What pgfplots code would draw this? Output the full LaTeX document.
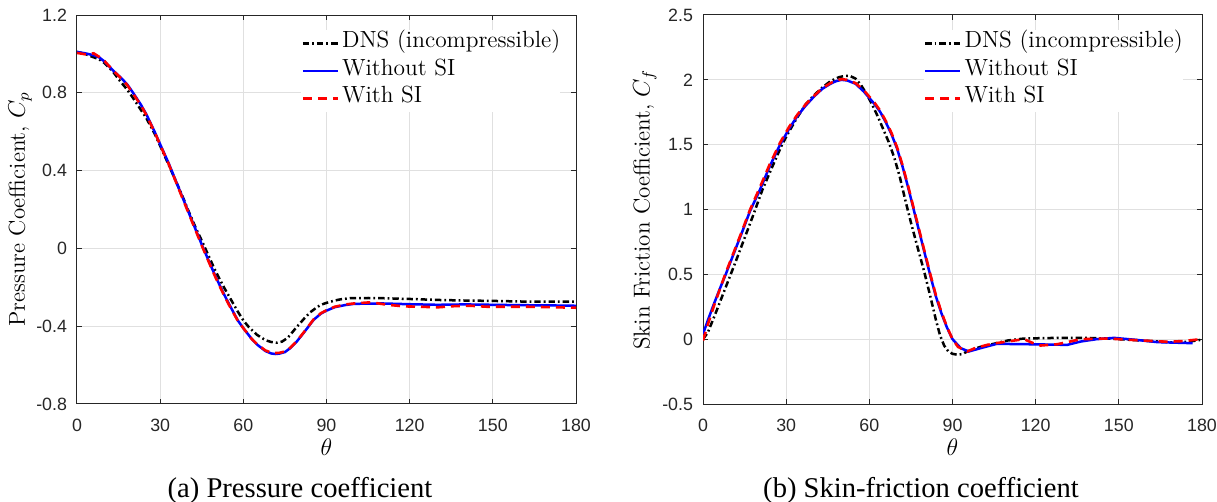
\documentclass[border=0pt]{standalone}
\usepackage{fontspec}
\usepackage{pgfplots}
\pgfplotsset{compat=1.18}
\newfontfamily\arialfont{Liberation Sans}
\newfontfamily\timesfont{Liberation Serif}
\definecolor{axgray}{RGB}{38,38,38}
\definecolor{gridgray}{RGB}{224,224,224}
\pgfplotsset{
  mystyle/.style={
    width=249.5pt, height=194.5pt, scale only axis,
    xmin=0, xmax=180, xtick={0,30,...,180},
    grid=major,
    major grid style={color=gridgray, line width=0.5pt},
    axis line style={color=axgray, line width=0.5pt},
    tick style={color=axgray, line width=0.5pt},
    tick align=inside, major tick length=2.5pt,
    /pgf/number format/assume math mode=true,
    tick label style={font=\arialfont\fontsize{8.9}{10}\selectfont, text=axgray},
    xticklabel style={yshift=-4pt},
    yticklabel style={xshift=-1.5pt},
    xlabel={$\theta$},
    xlabel style={at={(axis description cs:0.5,-0.1105)}, anchor=center, font=\fontsize{11.5}{13}\selectfont},
    ylabel style={anchor=center, font=\fontsize{11.5}{13}\selectfont},
    legend cell align=left,
    legend style={draw=none, fill=white, inner sep=0pt, column sep=1.5pt,
      font=\fontsize{11.7}{13}\selectfont,
      nodes={inner sep=0pt, text height=9pt, text depth=4.75pt},
      anchor=north west},
    legend image code/.code={\draw[#1] (0pt,0pt) -- (17.5pt,0pt);},
    dns/.style={black, line width=1.25pt, dash pattern=on 3.2pt off 1.5pt on 0.9pt off 1.5pt},
    wo/.style={blue, line width=1.25pt, solid},
    wi/.style={red, line width=1.3pt, dash pattern=on 4.5pt off 3pt},
  }
}
\begin{document}
\begin{tikzpicture}
\path[use as bounding box] (0,0) rectangle (608.5pt,-251pt);
% ---------------- (a) Pressure coefficient
\begin{axis}[mystyle, at={(38.5pt,-202pt)}, anchor=south west,
  ymin=-0.8, ymax=1.2, ytick={-0.8,-0.4,0,0.4,0.8,1.2},
  yticklabels={-0.8,-0.4,0,0.4,0.8,1.2},
  ylabel={Pressure Coefficient, $C_p$},
  ylabel style={at={(axis description cs:-0.114,0.5)}},
  legend style={at={(axis description cs:0.449,0.9634)}}]
\addplot[dns] coordinates {
(0,1.01)(3,1.0)(5,0.988)(8,0.972)(10,0.952)(13,0.908)(15,0.87)(18,0.818)(20,0.778)(23,0.713)(25,0.67)(28,0.59)(30,0.527)(33,0.432)(35,0.367)(38,0.27)(40,0.2)(43,0.1)(45,0.04)(48,-0.055)(50,-0.118)(53,-0.2)(55,-0.25)(58,-0.325)(60,-0.37)(62,-0.405)(65,-0.445)(68,-0.472)(70,-0.481)(72,-0.485)(74,-0.479)(76,-0.46)(79.2,-0.405)(82,-0.36)(84,-0.33)(86.5,-0.303)(88,-0.29)(90,-0.28)(93,-0.268)(95,-0.262)(98.5,-0.256)(105,-0.255)(110,-0.256)(120,-0.26)(130,-0.265)(140,-0.268)(150,-0.27)(160,-0.273)(170,-0.274)(180,-0.274)};
\addlegendentry{DNS (incompressible)}
\addplot[wo] coordinates {
(0,1.01)(3,1.003)(6,0.993)(8,0.982)(10,0.96)(13,0.915)(16,0.875)(18,0.845)(20,0.805)(23,0.74)(25,0.69)(28,0.6)(30,0.535)(33,0.44)(35,0.37)(38,0.265)(40,0.195)(43,0.09)(45,0.02)(48,-0.08)(50,-0.145)(53,-0.235)(55,-0.29)(58,-0.37)(60,-0.41)(63,-0.465)(65,-0.495)(68,-0.528)(70,-0.54)(71.5,-0.543)(73,-0.541)(75,-0.533)(77,-0.512)(79.2,-0.48)(82,-0.43)(85.3,-0.368)(88,-0.335)(90,-0.32)(93,-0.302)(96.9,-0.291)(100,-0.285)(110,-0.283)(120,-0.287)(130,-0.29)(140,-0.288)(150,-0.29)(160,-0.292)(170,-0.293)(180,-0.295)};
\addlegendentry{Without SI}
\addplot[wi] coordinates {
(0,1.005)(3,0.998)(6,1.003)(8,0.985)(10,0.962)(13,0.915)(16,0.873)(18,0.842)(20,0.8)(23,0.737)(25,0.686)(28,0.598)(30,0.532)(33,0.436)(35,0.366)(38,0.26)(40,0.19)(43,0.085)(45,0.015)(48,-0.085)(50,-0.15)(53,-0.24)(55,-0.295)(58,-0.372)(60,-0.41)(63,-0.465)(65,-0.493)(68,-0.525)(70,-0.535)(71.5,-0.538)(73,-0.537)(75,-0.53)(77,-0.51)(79.2,-0.478)(82,-0.428)(85.3,-0.366)(88,-0.333)(90,-0.318)(93,-0.3)(96.9,-0.288)(100,-0.283)(106,-0.277)(112,-0.29)(118,-0.298)(124,-0.3)(130,-0.303)(136,-0.297)(142,-0.295)(148,-0.3)(155,-0.3)(162,-0.3)(170,-0.302)(180,-0.305)};
\addlegendentry{With SI}
\end{axis}
% ---------------- (b) Skin friction coefficient
\begin{axis}[mystyle, at={(351.5pt,-202pt)}, anchor=south west,
  ymin=-0.5, ymax=2.5, ytick={-0.5,0,0.5,1,1.5,2,2.5},
  yticklabels={-0.5,0,0.5,1,1.5,2,2.5},
  ylabel={Skin Friction Coefficient, $C_f$},
  ylabel style={at={(axis description cs:-0.1165,0.5)}},
  legend style={at={(axis description cs:0.442,0.9634)}}]
\addplot[dns] coordinates {
(0,0.0)(1.7,0.05)(4,0.17)(6,0.28)(8,0.39)(10,0.5)(12,0.61)(15,0.78)(18,0.95)(21.4,1.15)(25,1.33)(28.5,1.5)(31,1.6)(34,1.71)(37,1.81)(40,1.88)(43,1.94)(46,1.99)(49,2.02)(51,2.03)(53,2.03)(55,2.01)(57,1.96)(59,1.89)(61,1.81)(63,1.72)(65,1.62)(67,1.52)(69,1.40)(71,1.25)(73,1.07)(75,0.9)(77,0.74)(79.8,0.52)(82,0.33)(84,0.15)(85.5,0.03)(87,-0.05)(88.5,-0.095)(90,-0.113)(91.7,-0.12)(93.5,-0.115)(95.3,-0.095)(100,-0.06)(106,-0.03)(110,-0.01)(115.8,0.005)(127.8,0.01)(138,0.01)(146,0.005)(158,-0.01)(170,-0.026)(175,-0.02)(179.6,-0.005)};
\addlegendentry{DNS (incompressible)}
\addplot[wo] coordinates {
(0,0.04)(2,0.16)(4,0.275)(6,0.385)(8.2,0.5)(10,0.6)(12,0.71)(14,0.82)(17,0.99)(20.5,1.15)(24,1.33)(27.8,1.5)(31,1.62)(34,1.72)(37,1.8)(40,1.87)(43,1.93)(46,1.97)(48,1.99)(50,2.0)(52,1.995)(55,1.97)(58,1.91)(60,1.86)(62,1.81)(64,1.75)(66,1.67)(68,1.58)(70,1.47)(72,1.33)(74,1.17)(76,1.0)(78,0.83)(80,0.66)(82,0.49)(84,0.33)(86,0.2)(88,0.09)(90,0.0)(93,-0.07)(95.9,-0.095)(100,-0.07)(106,-0.036)(117,-0.039)(126,-0.042)(131.4,-0.044)(136.3,-0.018)(142,0.0)(148.3,0.01)(156,-0.005)(164,-0.023)(176.6,-0.031)};
\addlegendentry{Without SI}
\addplot[wi] coordinates {
(0,-0.01)(2,0.13)(4,0.26)(6,0.38)(8,0.5)(10,0.61)(12,0.72)(14,0.83)(17,1.0)(20.5,1.17)(24,1.345)(27.8,1.515)(31,1.635)(34,1.73)(37,1.81)(40,1.875)(43,1.935)(46,1.975)(48,1.995)(50,2.005)(52,2.0)(55,1.975)(58,1.92)(60,1.87)(62,1.82)(64,1.76)(66,1.68)(68,1.59)(70,1.48)(72,1.34)(74,1.18)(76,1.01)(78,0.84)(80,0.67)(82,0.5)(84,0.34)(86,0.21)(88,0.095)(90,0.0)(92,-0.06)(95.3,-0.095)(98,-0.07)(102.5,-0.044)(106,-0.03)(109.8,-0.018)(115.8,0.0)(119,-0.03)(121.8,-0.049)(127.8,-0.039)(132,-0.02)(136.3,0.0)(146,0.005)(158,-0.01)(167.6,-0.02)(173,-0.015)(179.6,0.0)};
\addlegendentry{With SI}
\end{axis}
\node[anchor=base, font=\timesfont\fontsize{14.3}{16}\selectfont] at (150pt,-248.5pt) {(a) Pressure coefficient};
\node[anchor=base, font=\timesfont\fontsize{14.3}{16}\selectfont] at (460.5pt,-248.5pt) {(b) Skin-friction coefficient};
\end{tikzpicture}
\end{document}
